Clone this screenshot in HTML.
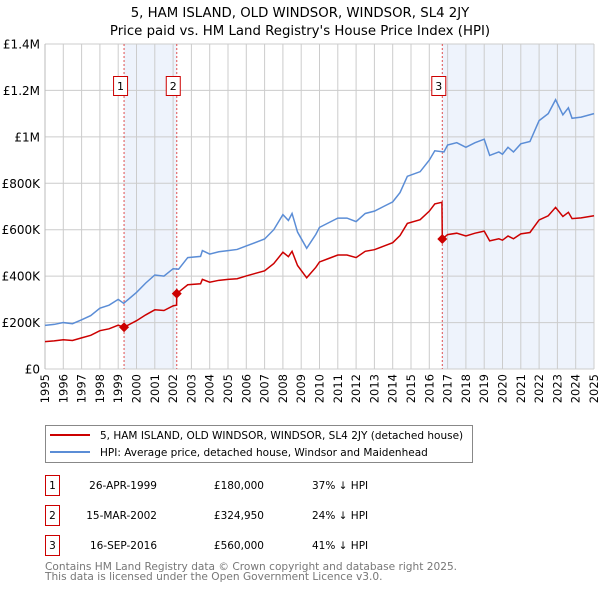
<!DOCTYPE html>
<html><head><meta charset="utf-8"><style>
body{margin:0;background:#fff;font-family:"DejaVu Sans","Liberation Sans",sans-serif;}
svg text{font-family:"DejaVu Sans","Liberation Sans",sans-serif;}
</style></head><body>
<svg id="chart" width="600" height="590" xmlns="http://www.w3.org/2000/svg">
<text x="300" y="17" text-anchor="middle" font-size="13.3" fill="#000">5, HAM ISLAND, OLD WINDSOR, WINDSOR, SL4 2JY</text>
<text x="300" y="35" text-anchor="middle" font-size="13.3" fill="#000">Price paid vs. HM Land Registry's House Price Index (HPI)</text>
<g id="plot"></g>
<g>
<rect x="45.5" y="425.5" width="427" height="37" fill="#fff" stroke="#888"/>
<line x1="50" y1="435" x2="90" y2="435" stroke="#cc0000" stroke-width="2"/>
<text x="100" y="439" font-size="10.5" fill="#000">5, HAM ISLAND, OLD WINDSOR, WINDSOR, SL4 2JY (detached house)</text>
<line x1="50" y1="452" x2="90" y2="452" stroke="#5b8dd6" stroke-width="2"/>
<text x="100" y="456" font-size="10.5" fill="#000">HPI: Average price, detached house, Windsor and Maidenhead</text>
</g>
<g font-size="10.5" fill="#000">
<rect x="45.5" y="475.5" width="14" height="20" fill="#fff" stroke="#cc0000"/><text x="52.5" y="489" text-anchor="middle">1</text>
<text x="157" y="489" text-anchor="end">26-APR-1999</text><text x="264" y="489" text-anchor="end">£180,000</text><text x="312" y="489">37% ↓ HPI</text>
<rect x="45.5" y="505.5" width="14" height="20" fill="#fff" stroke="#cc0000"/><text x="52.5" y="519" text-anchor="middle">2</text>
<text x="157" y="519" text-anchor="end">15-MAR-2002</text><text x="264" y="519" text-anchor="end">£324,950</text><text x="312" y="519">24% ↓ HPI</text>
<rect x="45.5" y="535.5" width="14" height="20" fill="#fff" stroke="#cc0000"/><text x="52.5" y="549" text-anchor="middle">3</text>
<text x="157" y="549" text-anchor="end">16-SEP-2016</text><text x="264" y="549" text-anchor="end">£560,000</text><text x="312" y="549">41% ↓ HPI</text>
</g>
<text x="45" y="570" font-size="10.6" fill="#777">Contains HM Land Registry data © Crown copyright and database right 2025.</text>
<text x="45" y="580" font-size="10.6" fill="#777">This data is licensed under the Open Government Licence v3.0.</text>
</svg>
<script>
const yTicks=[0,200000,400000,600000,800000,1000000,1200000,1400000];
const yTickLabels=["£0","£200K","£400K","£600K","£800K","£1M","£1.2M","£1.4M"];
const xTickYears=[1995,1996,1997,1998,1999,2000,2001,2002,2003,2004,2005,2006,2007,2008,2009,2010,2011,2012,2013,2014,2015,2016,2017,2018,2019,2020,2021,2022,2023,2024,2025];
const hpiYears=[1995,1995.5,1996,1996.5,1997,1997.5,1998,1998.5,1999,1999.3,2000,2000.5,2001,2001.5,2002,2002.3,2002.8,2003.5,2003.6,2004,2004.5,2005,2005.5,2006,2007,2007.5,2008,2008.3,2008.5,2008.8,2009.3,2009.8,2010,2010.5,2011,2011.5,2012,2012.5,2013,2013.5,2014,2014.4,2014.8,2015.5,2016,2016.3,2016.8,2017,2017.5,2018,2018.5,2019,2019.3,2019.8,2020,2020.3,2020.6,2021,2021.5,2022,2022.5,2022.9,2023.3,2023.6,2023.8,2024.3,2025];
const hpiValues=[188000,192000,200000,195000,212000,230000,262000,275000,300000,283000,330000,370000,405000,400000,432000,430000,480000,485000,510000,495000,505000,510000,515000,530000,560000,600000,665000,640000,670000,590000,520000,580000,610000,630000,650000,650000,635000,670000,680000,700000,720000,760000,830000,850000,900000,940000,935000,965000,975000,955000,975000,990000,920000,935000,925000,955000,935000,970000,980000,1070000,1100000,1160000,1095000,1125000,1080000,1085000,1100000];
const propYears=[1995,1995.5,1996,1996.5,1997,1997.5,1998,1998.5,1999,1999.32,2000,2000.5,2001,2001.5,2002,2002.19,2002.2,2002.8,2003.5,2003.6,2004,2004.5,2005,2005.5,2006,2007,2007.5,2008,2008.3,2008.5,2008.8,2009.3,2009.8,2010,2010.5,2011,2011.5,2012,2012.5,2013,2013.5,2014,2014.4,2014.8,2015.5,2016,2016.3,2016.69,2016.71,2017,2017.5,2018,2018.5,2019,2019.3,2019.8,2020,2020.3,2020.6,2021,2021.5,2022,2022.5,2022.9,2023.3,2023.6,2023.8,2024.3,2025];
const propValues=[118000,121000,126000,123000,134000,145000,165000,173000,189000,180000,208000,233000,255000,252000,272000,275000,325000,363000,367000,386000,374000,382000,386000,389000,401000,423000,454000,503000,484000,507000,446000,393000,438000,461000,476000,491000,491000,480000,507000,514000,529000,544000,575000,627000,643000,680000,711000,718000,560000,579000,585000,573000,585000,594000,552000,561000,555000,573000,561000,582000,588000,642000,660000,696000,657000,675000,648000,651000,660000];
const saleYears=[1999.32,2002.2,2016.71];
const saleValues=[180000,324950,560000];
const saleLabels=["1","2","3"];

const X0=45,X1=594,Y0=369,Y1=44;
const xs=y=>X0+(y-1995)/30*(X1-X0);
const ys=v=>Y0-v/1400000*(Y0-Y1);
const NS="http://www.w3.org/2000/svg";
const plot=document.getElementById('plot');
function mk(tag,attrs){const e=document.createElementNS(NS,tag);for(const k in attrs)e.setAttribute(k,attrs[k]);plot.appendChild(e);return e;}

let sh=mk('rect',{x:xs(saleYears[0]),y:Y1,width:xs(saleYears[1])-xs(saleYears[0]),height:Y0-Y1,fill:'#eef3fc'});


sh=mk('rect',{x:xs(saleYears[2]),y:Y1,width:X1-xs(saleYears[2]),height:Y0-Y1,fill:'#eef3fc'});



xTickYears.forEach(yr=>{
 const g=mk('line',{x1:xs(yr),x2:xs(yr),y1:Y1,y2:Y0,stroke:'#cccccc','stroke-width':1});
 
 
 const t=mk('text',{x:0,y:0,'font-size':11.5,'text-anchor':'end',transform:`translate(${xs(yr)+4},374) rotate(-90)`});
 t.textContent=yr;
 
 
});
yTicks.forEach((v,i)=>{
 const g=mk('line',{x1:X0,x2:X1,y1:ys(v),y2:ys(v),stroke:'#cccccc','stroke-width':1});
 
 
 const t=mk('text',{x:40,y:ys(v)+4.5,'font-size':12,'text-anchor':'end'});
 t.textContent=yTickLabels[i];
 
 
});
let ax=mk('line',{x1:X0,x2:X0,y1:Y1,y2:Y0,stroke:'#bbb'});



saleYears.forEach((yr,i)=>{
 const l=mk('line',{x1:xs(yr),x2:xs(yr),y1:Y1,y2:Y0,stroke:'#e05050','stroke-dasharray':'2,2','stroke-width':1});
 
 
 const b=mk('rect',{x:xs(yr)-10.5,y:76.5,width:14,height:19,fill:'#fff',stroke:'#cc0000'});
 
 
 const t=mk('text',{x:xs(yr)-3.5,y:90,'font-size':11,'text-anchor':'middle'});
 t.textContent=saleLabels[i];
 
 
});

let hp=mk('polyline',{points:hpiYears.map((y,i)=>xs(y)+','+ys(hpiValues[i])).join(' '),fill:'none',stroke:'#5b8dd6','stroke-width':1.5});


let pp=mk('polyline',{points:propYears.map((y,i)=>xs(y)+','+ys(propValues[i])).join(' '),fill:'none',stroke:'#cc0000','stroke-width':1.5});


saleYears.forEach((yr,i)=>{
 const cx=xs(yr),cy=ys(saleValues[i]);
 const d=mk('polygon',{points:`${cx},${cy-5} ${cx+5},${cy} ${cx},${cy+5} ${cx-5},${cy}`,fill:'#cc0000'});
 
 
});
</script>
</body></html>
